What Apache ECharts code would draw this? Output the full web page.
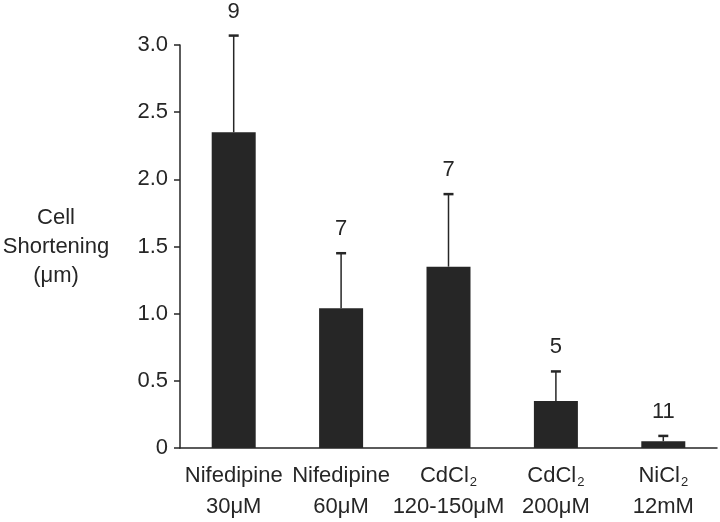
<!DOCTYPE html>
<html>
<head>
<meta charset="utf-8">
<script src="https://cdn.jsdelivr.net/npm/echarts@6/dist/echarts.min.js"></script>
<style>
  html, body { margin: 0; padding: 0; background: #fff; }
  #CellShortening { width: 720px; height: 522px; }
</style>
</head>
<body>
<div id="CellShortening"></div>
<script>
// categories, means, SEM and n
var categories = [
  'Nifedipine\n30μM',
  'Nifedipine\n60μM',
  'CdCl{sub|2}\n120-150μM',
  'CdCl{sub|2}\n200μM',
  'NiCl{sub|2}\n12mM'
]
var shortening = [2.35, 1.04, 1.35, 0.35, 0.05]
var errors = [0.72, 0.41, 0.54, 0.22, 0.04]
var counts = ['9', '7', '7', '5', '11']

var font = '"Liberation Sans", Arial, sans-serif'
var ink = '#262626'

var chart = echarts.init(document.getElementById('CellShortening'))
chart.setOption({
  animation: false,
  backgroundColor: '#fff',
  grid: { left: 180, right: 3, top: 45, bottom: 72 },
  graphic: [{
    type: 'text',
    x: 56,
    y: 247,
    style: {
      text: 'Cell\nShortening\n(μm)',
      textAlign: 'center',
      textVerticalAlign: 'middle',
      fontFamily: font,
      fontSize: 22,
      lineHeight: 29,
      fill: ink
    }
  }],
  xAxis: {
    type: 'category',
    data: categories,
    axisLine: { lineStyle: { color: ink, width: 1.5 } },
    axisTick: { length: 7, lineStyle: { color: ink, width: 1.5 } },
    axisLabel: {
      color: ink,
      fontFamily: font,
      fontSize: 22,
      lineHeight: 31,
      margin: 12,
      interval: 0,
      rich: {
        sub: { fontSize: 13, fontFamily: font, color: ink, padding: [14, 0, 0, 1] }
      }
    }
  },
  yAxis: {
    type: 'value',
    min: 0,
    max: 3,
    interval: 0.5,
    splitLine: { show: false },
    axisLine: { show: true, lineStyle: { color: ink, width: 1.5 } },
    axisTick: { show: true, length: 6, lineStyle: { color: ink, width: 1.5 } },
    axisLabel: {
      color: ink,
      fontFamily: font,
      fontSize: 22,
      margin: 12,
      formatter: function (v) { return v === 0 ? '0' : v.toFixed(1) }
    }
  },
  series: [
    {
      type: 'bar',
      data: shortening,
      barWidth: 44,
      itemStyle: { color: ink },
      z: 2
    },
    {
      type: 'custom',
      z: 3,
      data: shortening.map(function (v, i) { return [i, v, v + errors[i], counts[i]] }),
      renderItem: function (params, api) {
        var base = api.coord([api.value(0), api.value(1)])
        var top = api.coord([api.value(0), api.value(2)])
        var x = base[0]
        return {
          type: 'group',
          children: [
            {
              type: 'line',
              shape: { x1: x, y1: base[1], x2: x, y2: top[1] },
              style: { stroke: ink, lineWidth: 1.5 }
            },
            {
              type: 'line',
              shape: { x1: x - 5, y1: top[1], x2: x + 5, y2: top[1] },
              style: { stroke: ink, lineWidth: 2.5 }
            },
            {
              type: 'text',
              style: {
                text: String(api.value(3)),
                x: x,
                y: top[1] - 24,
                textAlign: 'center',
                textVerticalAlign: 'middle',
                fontFamily: font,
                fontSize: 22,
                fill: ink
              }
            }
          ]
        }
      }
    }
  ]
})
</script>
</body>
</html>
